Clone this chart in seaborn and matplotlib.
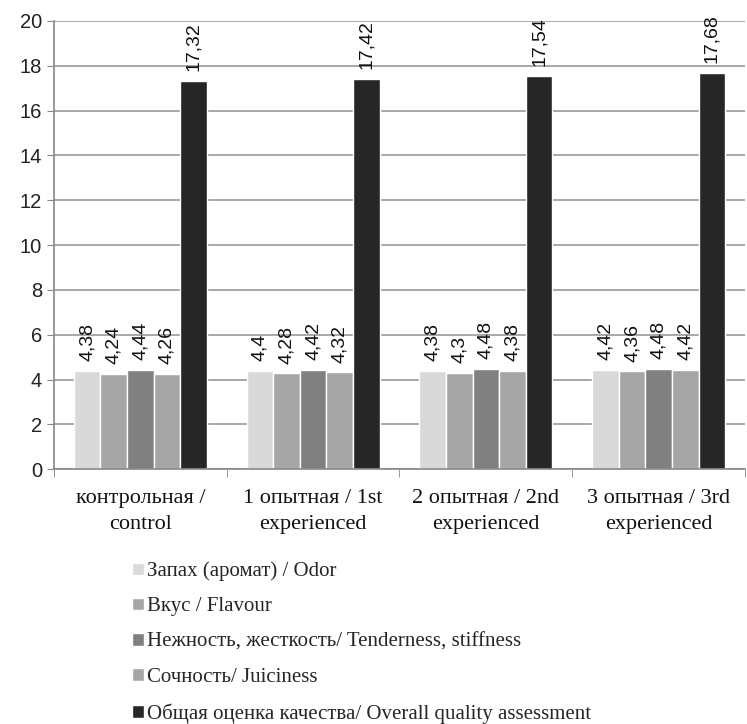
import matplotlib
matplotlib.use("Agg")
import matplotlib.pyplot as plt
import seaborn as sns
import pandas as pd

groups = ["контрольная /\ncontrol", "1 опытная / 1st\nexperienced",
          "2 опытная / 2nd\nexperienced", "3 опытная / 3rd\nexperienced"]
series = ["Запах (аромат) / Odor", "Вкус / Flavour",
          "Нежность, жесткость/ Tenderness, stiffness",
          "Сочность/ Juiciness",
          "Общая оценка качества/ Overall quality assessment"]
odor = [4.38, 4.40, 4.38, 4.42]
flavour = [4.24, 4.28, 4.30, 4.36]
tenderness = [4.44, 4.42, 4.48, 4.48]
juiciness = [4.26, 4.32, 4.38, 4.42]
overall = [17.32, 17.42, 17.54, 17.68]
colors = ["#d9d9d9", "#a6a6a6", "#808080", "#a6a6a6", "#262626"]

rows = []
for name, vals in zip(series, [odor, flavour, tenderness, juiciness, overall]):
    for g, v in zip(groups, vals):
        rows.append({"group": g, "series": name, "value": v})
df = pd.DataFrame(rows)

sns.set_style("white")
fig = plt.figure(figsize=(7.47, 7.24), dpi=100)
ax = fig.add_axes([0.0723, 0.352, 0.925, 0.619])

sns.barplot(data=df, x="group", y="value", hue="series", palette=colors,
            width=0.77, gap=0, ax=ax, legend=True, saturation=1,
            errorbar=None)

for cont in ax.containers:
    ax.bar_label(cont, labels=[f"{b.get_height():g}".replace(".", ",") for b in cont],
                 rotation=90, padding=7, fontsize=14,
                 family="Liberation Sans", color="#111111")

ax.set_ylim(0, 20)
ax.set_yticks(range(0, 21, 2))
ax.set_xlim(-0.5, 3.5)
ax.yaxis.grid(True, color="#9a9a9a", linewidth=1.2)
ax.set_axisbelow(True)
ax.set_xlabel("")
ax.set_ylabel("")
for s in ["top", "right"]:
    ax.spines[s].set_visible(False)
for s in ["left", "bottom"]:
    ax.spines[s].set_color("#888888")
    ax.spines[s].set_linewidth(1.2)

ax.tick_params(axis="y", left=True, length=5, color="#888888",
               labelsize=14.5, labelcolor="#222222")
for t in ax.get_yticklabels():
    t.set_family("Liberation Sans")
ax.set_xticks([-0.5, 0.5, 1.5, 2.5, 3.5], minor=True)
ax.tick_params(axis="x", which="minor", bottom=True, length=6, color="#888888")
ax.tick_params(axis="x", which="major", bottom=False, pad=11,
               labelsize=16, labelcolor="#111111")
for t in ax.get_xticklabels():
    t.set_family("Liberation Serif")
    t.set_linespacing(1.45)

handles, labels = ax.get_legend_handles_labels()
ax.get_legend().remove()
leg = fig.legend(handles, labels, loc="upper left",
                 bbox_to_anchor=(0.166, 0.236), frameon=False,
                 prop={"family": "Liberation Serif", "size": 15},
                 handlelength=0.55, handleheight=0.55, handletextpad=0.15,
                 labelspacing=0.78, borderaxespad=0)

fig.savefig("out.png", dpi=100)
